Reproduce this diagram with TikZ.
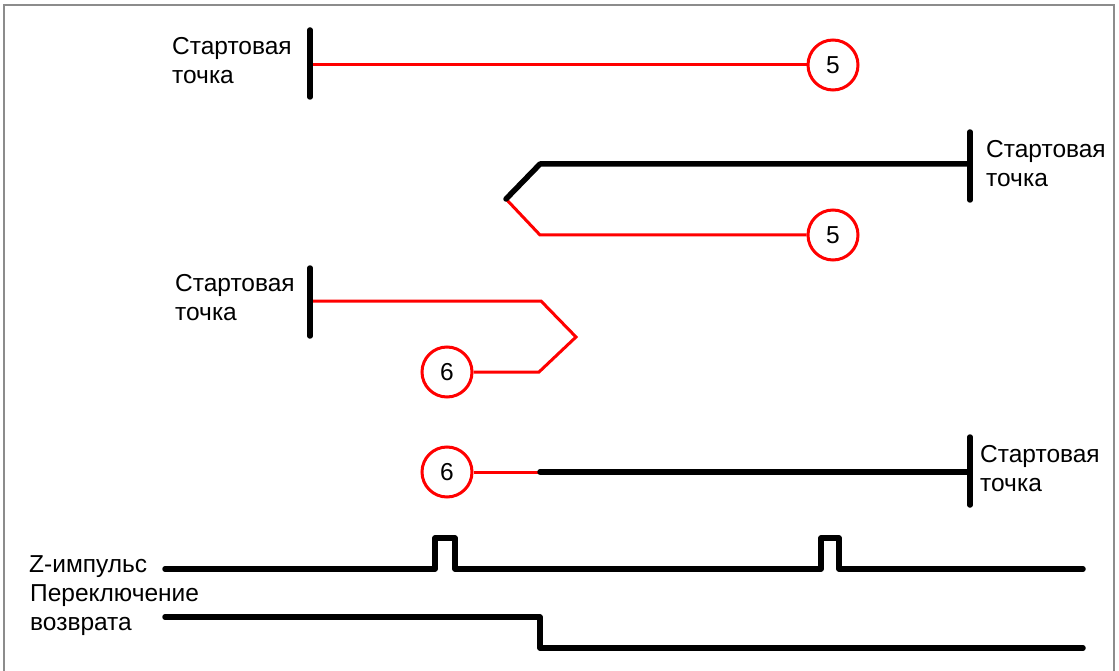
\documentclass[tikz,border=0pt]{standalone}
\usepackage{fontspec}
\setmainfont{Liberation Sans}
\begin{document}
\begin{tikzpicture}[x=1pt,y=-1pt,
  lbl/.style={anchor=north west,inner sep=0pt,align=left,font=\fontsize{24.5}{28.5}\selectfont},
  num/.style={circle,draw=red,line width=3pt,minimum size=50pt,inner sep=0pt,fill=white,font=\fontsize{24.5}{28}\selectfont},
  blk/.style={line width=5.5pt,line cap=round,line join=round},
  redl/.style={draw=red,line width=3pt,line join=miter}]
\useasboundingbox (0,0) rectangle (1119,671);
\draw[color=black!45,line width=1.5pt] (4,672) -- (4,5) -- (1114,5) -- (1114,672);

% Row 1
\node[lbl] (t1) at (172,37.5) {Стартовая\\точка};
\coordinate (b1t) at (310,30); \coordinate (b1b) at (310,97); \coordinate (b1m) at (310,65);
\node[num] (c5a) at (833,65) {5};
\draw[redl] (b1m) -- (c5a.west);
\draw[blk] (b1t) -- (b1b);

% Row 2
\node[lbl] (t2) at (986,140.5) {Стартовая\\точка};
\coordinate (b2t) at (970,132); \coordinate (b2b) at (970,200); \coordinate (b2m) at (970,164);
\coordinate (k2a) at (540,164); \coordinate (k2b) at (506,199); \coordinate (k2c) at (540,235);
\node[num] (c5b) at (833,235) {5};
\draw[redl] (k2b) -- (k2c) -- (c5b.west);
\draw[blk] (b2m) -- (k2a) -- (k2b);
\draw[blk] (b2t) -- (b2b);

% Row 3
\node[lbl] (t3) at (175,274.5) {Стартовая\\точка};
\coordinate (b3t) at (310,268); \coordinate (b3b) at (310,336); \coordinate (b3m) at (310,301);
\coordinate (k3a) at (541,301); \coordinate (k3b) at (576,337); \coordinate (k3c) at (539,372);
\node[num] (c6a) at (447,372) {6};
\draw[redl] (b3m) -- (k3a) -- (k3b) -- (k3c) -- (c6a.east);
\draw[blk] (b3t) -- (b3b);

% Row 4
\node[lbl] (t4) at (980,445.5) {Стартовая\\точка};
\coordinate (b4t) at (970,437); \coordinate (b4b) at (970,505); \coordinate (b4m) at (970,472);
\coordinate (j4) at (540,472);
\node[num] (c6b) at (447,472) {6};
\draw[redl] (c6b.east) -- (j4);
\draw[blk] (j4) -- (b4m);
\draw[blk] (b4t) -- (b4b);

% Signals
\node[lbl] (zl) at (29,555.5) {Z-импульс};
\node[lbl] (rl) at (30,584.5) {Переключение\\возврата};
\coordinate (z0) at (165,569); \coordinate (z1) at (1083,569);
\coordinate (r0) at (165,617); \coordinate (r1) at (1083,648);
\draw[blk] (z0) -- (435,569) -- (435,538) -- (455,538) -- (455,569)
  -- (821,569) -- (821,538) -- (839,538) -- (839,569) -- (z1);
\draw[blk] (r0) -- (540,617) -- (540,648) -- (r1);
\end{tikzpicture}
\end{document}
